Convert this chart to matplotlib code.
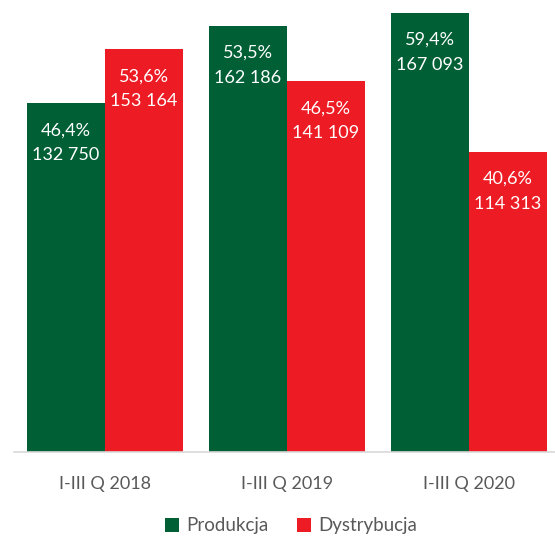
import numpy as np
import matplotlib
matplotlib.use('Agg')
import matplotlib.pyplot as plt

# data
categories = ['I-III Q 2018', 'I-III Q 2019', 'I-III Q 2020']
produkcja = [132750, 162186, 167093]
dystrybucja = [153164, 141109, 114313]
produkcja_pct = ['46,4%', '53,5%', '59,4%']
dystrybucja_pct = ['53,6%', '46,5%', '40,6%']

green = '#005F35'
red = '#ED1C24'

plt.rcParams['font.family'] = ['Lato', 'DejaVu Sans']

fig = plt.figure(figsize=(5.55, 5.37), dpi=100)
ax = fig.add_axes([14 / 555, 85 / 537, 546 / 555, 452 / 537])

x = np.arange(len(categories))
w = 0.4286
b1 = ax.bar(x - w / 2, produkcja, w, color=green, label='Produkcja')
b2 = ax.bar(x + w / 2, dystrybucja, w, color=red, label='Dystrybucja')


def fmt(v):
    return f'{v:,}'.replace(',', ' ')


for bars, vals, pcts in [(b1, produkcja, produkcja_pct), (b2, dystrybucja, dystrybucja_pct)]:
    for rect, v, p in zip(bars, vals, pcts):
        cx = rect.get_x() + rect.get_width() / 2
        ax.annotate(p, (cx, v), xytext=(0, -27 * 0.72), textcoords='offset points',
                    ha='center', va='center', color='white', fontsize=13)
        ax.annotate(fmt(v), (cx, v), xytext=(0, -52 * 0.72), textcoords='offset points',
                    ha='center', va='center', color='white', fontsize=13)

ax.set_xlim(-0.5, 2.5)
ax.set_ylim(0, 172000)
ax.set_xticks(x)
ax.set_xticklabels(categories, fontsize=13, color='#595959')
ax.tick_params(axis='x', length=0, pad=17)
ax.set_yticks([])
for s in ['top', 'right', 'left']:
    ax.spines[s].set_visible(False)
ax.spines['bottom'].set_color('#D9D9D9')
ax.spines['bottom'].set_linewidth(1.2)

# legend sits at the very bottom edge, nudged up so descenders fit
fig.legend(handles=[b1, b2], loc='center', bbox_to_anchor=(0.525, 0.021), ncol=2,
           frameon=False, fontsize=13.5, handlelength=0.75, handleheight=0.75,
           handletextpad=0.4, columnspacing=1.5, labelcolor='#595959')

fig.savefig('out.png', dpi=100)
